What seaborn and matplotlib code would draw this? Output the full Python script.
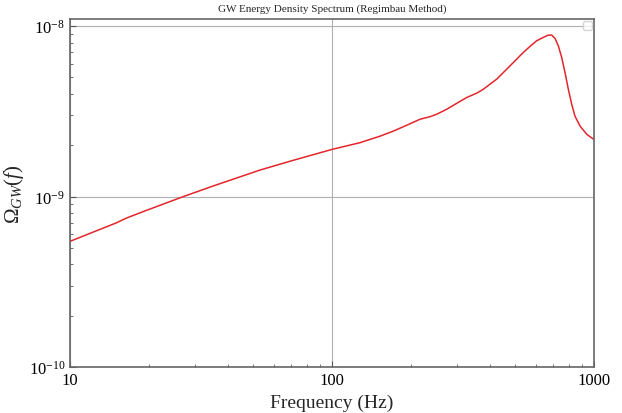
import matplotlib
matplotlib.use('Agg')
import matplotlib.pyplot as plt
import matplotlib.ticker as mticker
import seaborn as sns
import pandas as pd

# values (log-log)
freq = [10, 15, 16.5, 20, 27.1, 35, 53.1, 70, 100, 127.9, 152.5, 171.4,
        192.8, 216.7, 236.6, 251, 274, 299, 326.8, 356.7, 378, 400.9, 425,
        464, 507, 537, 570, 604, 640.8, 669, 689.5, 709.8, 730.7, 752.7, 775,
        798, 822, 846, 884.6, 937.6, 1000]
omega = [5.46e-10, 7.0e-10, 7.5e-10, 8.4e-10, 1.0e-9, 1.15e-9, 1.43e-9,
         1.62e-9, 1.89e-9, 2.07e-9, 2.26e-9, 2.42e-9, 2.62e-9, 2.84e-9,
         2.94e-9, 3.04e-9, 3.25e-9, 3.52e-9, 3.81e-9, 4.04e-9, 4.26e-9,
         4.56e-9, 4.88e-9, 5.58e-9, 6.40e-9, 7.0e-9, 7.6e-9, 8.2e-9, 8.58e-9,
         8.85e-9, 8.85e-9, 8.46e-9, 7.66e-9, 6.55e-9, 5.34e-9, 4.26e-9,
         3.48e-9, 2.96e-9, 2.59e-9, 2.32e-9, 2.16e-9]
xticks = [10, 100, 1000]
yticks = [1e-10, 1e-9, 1e-8]

data = pd.DataFrame({'freq': freq, 'omega': omega})

sns.set_style('white')
plt.rcParams['font.family'] = ['Liberation Serif', 'DejaVu Serif']
plt.rcParams['mathtext.fontset'] = 'custom'
plt.rcParams['mathtext.rm'] = 'Liberation Serif'
plt.rcParams['mathtext.it'] = 'Liberation Serif:italic'

fig = plt.figure(figsize=(6.22, 4.14), dpi=100)
ax = fig.add_axes([0.1125, 0.111, 0.8425, 0.8407])

sns.lineplot(x='freq', y='omega', data=data, ax=ax, color='#e3262b', lw=1.1)
ax.set_xscale('log')
ax.set_yscale('log')
ax.set_xticks(xticks)
ax.set_yticks(yticks)
ax.set_xlim(10, 1000)
ax.set_ylim(1e-10, 1.1e-8)
ax.xaxis.set_major_formatter(mticker.FuncFormatter(lambda v, p: f'{v:g}'))
ax.xaxis.set_minor_formatter(mticker.NullFormatter())
ax.yaxis.set_minor_formatter(mticker.NullFormatter())

ax.grid(True, which='major', color='#b0b0b0', lw=0.8)
ax.tick_params(which='both', direction='in', left=True, bottom=True,
               colors='#555555', labelcolor='black', labelsize=12)
ax.tick_params(which='major', length=4)
ax.tick_params(which='minor', length=2.5)
for s in ax.spines.values():
    s.set_color('#666666')
    s.set_linewidth(1.2)

ax.set_title('GW Energy Density Spectrum (Regimbau Method)', fontsize=8)
ax.set_xlabel('Frequency (Hz)', fontsize=14)
ax.set_ylabel(r'$\Omega_{GW}(f)$', fontsize=15, labelpad=2)
ax.legend(loc='upper right', frameon=True, fontsize=8, borderpad=0.4,
          borderaxespad=0.2)

plt.savefig('out.png', dpi=100)
plt.close()
